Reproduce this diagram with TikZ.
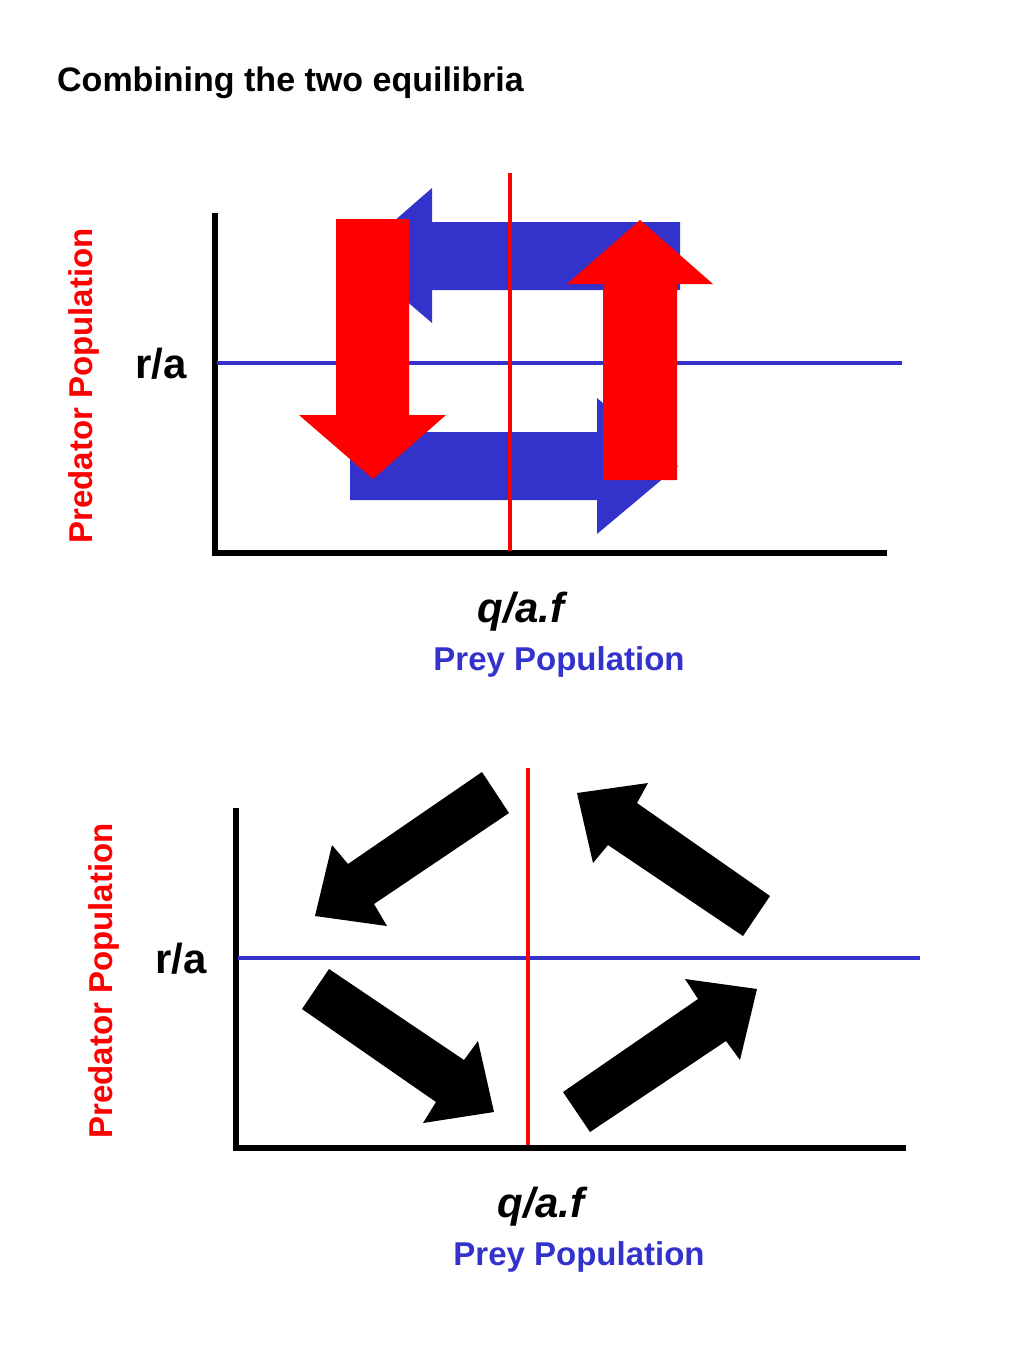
\documentclass[tikz,border=0pt]{standalone}
\usepackage{fontspec}
\setmainfont{Liberation Sans}
\usepackage{tikz}
\definecolor{popblue}{RGB}{51,51,204}
\definecolor{popred}{RGB}{255,0,0}
\def\tikzunit{1pt}

\begin{document}
\begin{tikzpicture}[x=\tikzunit,y=-\tikzunit,
    axis/.style={black,line width=6pt},
    level/.style={popblue,line width=4pt},
    iso/.style={popred,line width=4pt},
    lbl/.style={inner sep=0pt,font=\bfseries\fontsize{33}{38}\selectfont},
    big/.style={inner sep=0pt,font=\bfseries\fontsize{42}{48}\selectfont}]

  \useasboundingbox (0,0) rectangle (1024,1365);

  \node[lbl,font=\bfseries\fontsize{34}{40}\selectfont,anchor=base west]
  (title) at (57,91) {Combining the two equilibria};

  %% upper panel
  \begin{scope}
    \draw[axis] (215,213) -- (215,556);
    \draw[axis] (212,553) -- (887,553);

    \fill[popblue]
    (680,222) -- (432,222) -- (432,188) -- (354,256)
    -- (432,323) -- (432,290) -- (680,290) -- cycle;
    \fill[popblue]
    (350,432) -- (597,432) -- (597,398) -- (678,466)
    -- (597,534) -- (597,500) -- (350,500) -- cycle;

    \draw[level] (217,363) -- (902,363);
    \draw[iso] (510,173) -- (510,551);

    \fill[popred]
    (336,219) -- (409,219) -- (409,415) -- (446,415)
    -- (373,479) -- (299,415) -- (336,415) -- cycle;
    \fill[popred]
    (603,480) -- (603,284) -- (567,284) -- (640,220)
    -- (713,284) -- (677,284) -- (677,480) -- cycle;

    \node[lbl,text=popred,rotate=90,anchor=base] (predA) at (92,386) {Predator Population};
    \node[big,anchor=base] (ratioA) at (161,378) {r/a};
    \node[big,font=\bfseries\itshape\fontsize{42}{48}\selectfont,anchor=base]
    (qafA) at (521,622) {q/a.f};
    \node[lbl,text=popblue,anchor=base] (preyA) at (559,670) {Prey Population};
  \end{scope}

  %% lower panel
  \begin{scope}[shift={(20,595)}]
    \draw[axis] (216,213) -- (216,556);
    \draw[axis] (213,553) -- (886,553);

    \draw[level] (218,363) -- (900,363);
    \draw[iso] (508,173) -- (508,550);

    \fill[black] (462,177) -- (489,218) -- (354,309) -- (367,331)
    -- (295,321) -- (312,250) -- (328,269) -- cycle;
    \fill[black] (557,198) -- (628,188) -- (617,208) -- (750,301)
    -- (723,341) -- (588,250) -- (573,268) -- cycle;
    \fill[black] (309,374) -- (444,465) -- (458,446) -- (474,517)
    -- (403,528) -- (416,507) -- (282,414) -- cycle;
    \fill[black] (543,497) -- (678,404) -- (665,384) -- (737,394)
    -- (720,465) -- (706,446) -- (570,537) -- cycle;

    \node[lbl,text=popred,rotate=90,anchor=base] (predB) at (92,386) {Predator Population};
    \node[big,anchor=base] (ratioB) at (161,378) {r/a};
    \node[big,font=\bfseries\itshape\fontsize{42}{48}\selectfont,anchor=base]
    (qafB) at (521,622) {q/a.f};
    \node[lbl,text=popblue,anchor=base] (preyB) at (559,670) {Prey Population};
  \end{scope}

\end{tikzpicture}
\end{document}
